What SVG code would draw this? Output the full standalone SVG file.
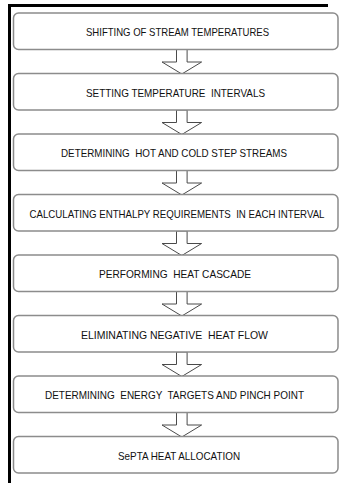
<svg xmlns="http://www.w3.org/2000/svg" width="342" height="483" viewBox="0 0 342 483">
  <style>
    .step rect { fill: #ffffff; stroke: #8c8c8c; stroke-width: 1.5; }
    .step text { font-family: "Liberation Sans", Arial, sans-serif; font-size: 11.5px; fill: #111111; text-anchor: middle; }
    .arrow { fill: #ffffff; stroke: #4a4a4a; stroke-width: 1; stroke-linejoin: miter; }
    .frame { stroke: #000000; stroke-width: 3; fill: none; }
  </style>
  <defs>
    <!-- hollow block arrow, origin at top of shaft centre -->
    <path id="down" d="M -5.3 0 L 5.3 0 L 5.3 12.5 L 19.8 12.5 L 0 24.5 L -19.8 12.5 L -5.3 12.5 Z"/>
  </defs>
  <rect width="342" height="483" fill="#ffffff"/>
  <!-- page frame -->
  <path class="frame" d="M 9.5 483 L 9.5 5.5 L 328 5.5"/>

  <!-- connectors -->
  <g id="connectors">
    <use href="#down" class="arrow" x="181.8" y="49.5"/>
    <use href="#down" class="arrow" x="181.8" y="110"/>
    <use href="#down" class="arrow" x="181.8" y="170.5"/>
    <use href="#down" class="arrow" x="181.8" y="231"/>
    <use href="#down" class="arrow" x="181.8" y="291.5"/>
    <use href="#down" class="arrow" x="181.8" y="352"/>
    <use href="#down" class="arrow" x="181.8" y="412.5"/>
  </g>

  <g id="step1" class="step">
    <rect x="13.5" y="13" width="324.5" height="36.5" rx="5"/>
    <text x="177.5" y="36" textLength="183" lengthAdjust="spacingAndGlyphs">SHIFTING OF STREAM TEMPERATURES</text>
  </g>
  <g id="step2" class="step">
    <rect x="13.5" y="73.5" width="324.5" height="36.5" rx="5"/>
    <text x="175.5" y="96.5" textLength="179" lengthAdjust="spacingAndGlyphs" xml:space="preserve">SETTING TEMPERATURE  INTERVALS</text>
  </g>
  <g id="step3" class="step">
    <rect x="13.5" y="134" width="324.5" height="36.5" rx="5"/>
    <text x="174" y="157" textLength="226" lengthAdjust="spacingAndGlyphs" xml:space="preserve">DETERMINING  HOT AND COLD STEP STREAMS</text>
  </g>
  <g id="step4" class="step">
    <rect x="13.5" y="194.5" width="324.5" height="36.5" rx="5"/>
    <text x="177" y="217.5" textLength="295" lengthAdjust="spacingAndGlyphs" xml:space="preserve">CALCULATING ENTHALPY REQUIREMENTS  IN EACH INTERVAL</text>
  </g>
  <g id="step5" class="step">
    <rect x="13.5" y="255" width="324.5" height="36.5" rx="5"/>
    <text x="175" y="278" textLength="152" lengthAdjust="spacingAndGlyphs" xml:space="preserve">PERFORMING  HEAT CASCADE</text>
  </g>
  <g id="step6" class="step">
    <rect x="13.5" y="315.5" width="324.5" height="36.5" rx="5"/>
    <text x="174.5" y="338.5" textLength="187" lengthAdjust="spacingAndGlyphs" xml:space="preserve">ELIMINATING NEGATIVE  HEAT FLOW</text>
  </g>
  <g id="step7" class="step">
    <rect x="13.5" y="376" width="324.5" height="36.5" rx="5"/>
    <text x="174.5" y="399" textLength="259" lengthAdjust="spacingAndGlyphs" xml:space="preserve">DETERMINING  ENERGY  TARGETS AND PINCH POINT</text>
  </g>
  <g id="step8" class="step">
    <rect x="13.5" y="436.5" width="324.5" height="36.5" rx="5"/>
    <text x="179" y="459.5" textLength="122" lengthAdjust="spacingAndGlyphs">SePTA HEAT ALLOCATION</text>
  </g>
</svg>
